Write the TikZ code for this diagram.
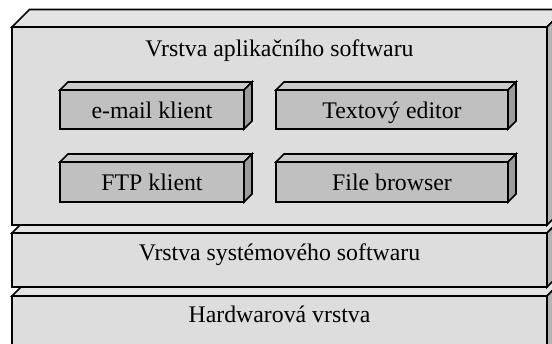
\documentclass[tikz,border=0pt]{standalone}
\usepackage{fontspec}
\setmainfont{Liberation Serif}
\begin{document}
\begin{tikzpicture}[x=1pt,y=-1pt,
  edge/.style={draw=black,line width=1.6pt,line join=miter},
  label/.style={anchor=base,inner sep=0pt,font=\fontsize{23.8}{28}\selectfont}]
\definecolor{layfront}{HTML}{DDDDDD}
\definecolor{laytop}{HTML}{E4E4E4}
\definecolor{layside}{HTML}{B4B4B4}
\definecolor{modfront}{HTML}{C0C0C0}
\definecolor{modtop}{HTML}{CBCBCB}
\definecolor{modside}{HTML}{9C9C9C}
% \blockbox{x1}{y1}{x2}{y2}{depth}{front}{top}{side}
\newcommand\blockbox[8]{%
  \path[edge,fill=#7] (#1,#2) -- ++(#5,-#5) -- (#3+#5,#2-#5) -- (#3,#2) -- cycle;
  \path[edge,fill=#8] (#3,#2) -- (#3+#5,#2-#5) -- (#3+#5,#4-#5) -- (#3,#4) -- cycle;
  \path[edge,fill=#6] (#1,#2) rectangle (#3,#4);
}
\useasboundingbox (0,0) rectangle (552,344);
\clip (0,0) rectangle (552,344);
% layers, from the bottom one up
\blockbox{12}{296}{547}{370}{17.5}{layfront}{laytop}{layside}
\blockbox{12}{233}{547}{287}{17.5}{layfront}{laytop}{layside}
\blockbox{12}{27}{547}{225}{17.5}{layfront}{laytop}{layside}
% application modules
\blockbox{60}{90}{244}{129}{8}{modfront}{modtop}{modside}
\blockbox{276}{90}{508}{129}{8}{modfront}{modtop}{modside}
\blockbox{60}{162}{244}{202}{8}{modfront}{modtop}{modside}
\blockbox{276}{162}{508}{202}{8}{modfront}{modtop}{modside}
% texts
\node[label] (app) at (279.5,57) {Vrstva aplikačního softwaru};
\node[label] (mail) at (152,118.5) {e-mail klient};
\node[label] (editor) at (392,118.5) {Textový editor};
\node[label] (ftp) at (152,191) {FTP klient};
\node[label] (browser) at (392,191) {File browser};
\node[label] (sys) at (279.5,261) {Vrstva systémového softwaru};
\node[label] (hw) at (279.5,323) {Hardwarová vrstva};
\end{tikzpicture}
\end{document}
